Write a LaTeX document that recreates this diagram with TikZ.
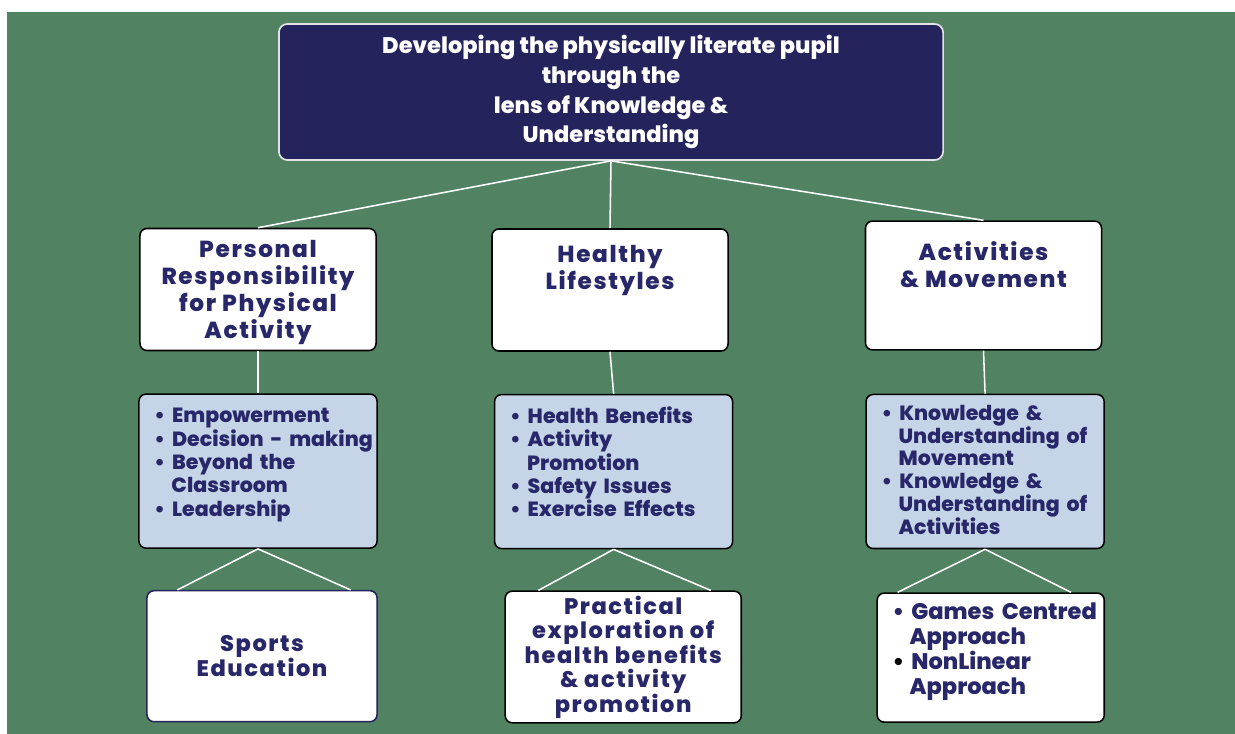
\documentclass[tikz,border=0pt]{standalone}
\usepackage{fontspec}
\setmainfont{Poppins}[BoldFont={* ExtraBold}]
\newfontfamily\wideface{Poppins}[BoldFont={* ExtraBold}, LetterSpace=7]
\usetikzlibrary{positioning}

\definecolor{bggreen}{HTML}{518262}
\definecolor{deepnavy}{HTML}{25235C}
\definecolor{inknavy}{HTML}{272769}
\definecolor{paleblue}{HTML}{C5D4E6}
\definecolor{rimgray}{HTML}{E2E2E8}

% tight bullet list for the boxes
\newenvironment{dotlist}{%
  \begin{list}{\textbullet}{%
    \setlength{\leftmargin}{0.725cm}\setlength{\labelwidth}{0.25cm}%
    \setlength{\labelsep}{0.175cm}\setlength{\itemindent}{0pt}%
    \setlength{\itemsep}{0pt}\setlength{\parsep}{0pt}%
    \setlength{\topsep}{0pt}\setlength{\partopsep}{0pt}}}%
  {\end{list}}

\begin{document}
\begin{tikzpicture}[x=0.025cm, y=-0.025cm,
  topbox/.style={draw=rimgray, line width=1.2pt, fill=deepnavy,
    rounded corners=6pt, text=white, align=center,
    minimum width=16.6cm, minimum height=3.4cm,
    font=\bfseries\fontsize{16}{21.3}\selectfont},
  headbox/.style={draw=black, line width=1.1pt, fill=white,
    rounded corners=5pt, minimum width=5.9cm, minimum height=3.05cm},
  headtext/.style={inner sep=0pt, align=center, text=inknavy,
    font=\wideface\bfseries\fontsize{16.5}{19.2}\selectfont},
  listbox/.style={draw=black, line width=1.1pt, fill=paleblue,
    rounded corners=5pt, minimum width=5.95cm, minimum height=3.85cm},
  listtext/.style={anchor=north west, inner sep=0pt, text width=6.5cm,
    align=left, text=inknavy, font=\bfseries\fontsize{14.6}{16.6}\selectfont},
  leafbox/.style={draw=black, line width=1.1pt, fill=white,
    rounded corners=5pt, minimum width=5.8cm, minimum height=3.275cm,
    align=center, text=inknavy,
    font=\wideface\bfseries\fontsize{16}{17.4}\selectfont},
  link/.style={draw=white, line width=1.1pt}
]
  \useasboundingbox[fill=white] (0,0) rectangle (1235,734);
  \fill[bggreen] (7,12) rectangle (1235,734);

  % title
  \node[topbox] (top) at (611,92)
    {Developing the physically literate pupil\\through the\\lens of Knowledge \&\\Understanding};

  % the three strands
  \node[headbox] (pers) at (258,289.5) {};
  \node[headbox] (life) at (610,290) {};
  \node[headbox, minimum height=3.22cm] (move) at (983.5,285.5) {};
  \node[headtext, below=0.3cm of pers.north] (pers-t)
    {Personal\\Responsibility\\for Physical\\Activity};
  \node[headtext, below=0.42cm of life.north] (life-t) {Healthy\\Lifestyles};
  \node[headtext, below=0.52cm of move.north] (move-t) {Activities\\\& Movement};

  % key points
  \node[listbox, below=1.05cm of pers] (persl) {};
  \node[listbox, below=1.05cm of life, xshift=0.09cm] (lifel) {};
  \node[listbox, below=1.075cm of move, xshift=0.04cm] (movel) {};
  \node[listtext] (persl-t) at ([shift={(0.1cm,-0.15cm)}]persl.north west)
    {\begin{dotlist}
      \item Empowerment
      \item Decision - making
      \item Beyond the\newline Classroom
      \item Leadership
    \end{dotlist}};
  \node[listtext] (lifel-t) at ([shift={(0.1cm,-0.15cm)}]lifel.north west)
    {\begin{dotlist}
      \item Health Benefits
      \item Activity\newline Promotion
      \item Safety Issues
      \item Exercise Effects
    \end{dotlist}};
  \node[listtext, font=\bfseries\fontsize{14.6}{16.3}\selectfont] (movel-t)
    at ([shift={(0.1cm,-0.08cm)}]movel.north west)
    {\begin{dotlist}
      \item Knowledge \&\newline Understanding of\newline Movement
      \item Knowledge \&\newline Understanding of\newline Activities
    \end{dotlist}};

  % practice
  \node[leafbox, draw=deepnavy, below=1.025cm of persl, xshift=0.1cm,
    minimum width=5.75cm] (sport) {Sports\\Education};
  \node[leafbox, below=1.025cm of lifel, xshift=0.24cm, minimum width=5.9cm]
    (pract) {Practical\\exploration of\\health benefits\\\& activity\\promotion};
  \node[leafbox, below=1.075cm of movel, xshift=0.14cm, minimum width=5.675cm,
    minimum height=3.225cm] (games) {};
  \node[listtext, font=\bfseries\fontsize{16}{17.8}\selectfont]
    (games-t) at ([shift={(0.1cm,-0.05cm)}]games.north west)
    {\begin{dotlist}
      \item Games Centred\newline Approach
      \item[\textcolor{black}{\textbullet}] NonLinear\newline Approach
    \end{dotlist}};

  % connectors
  \draw[link] (top.south) -- (pers.north);
  \draw[link] (top.south) -- (life.north);
  \draw[link] (top.south) -- (move.north);
  \draw[link] (pers.south) -- (persl.north);
  \draw[link] (life.south) -- (lifel.north);
  \draw[link] (move.south) -- (movel.north);
  \draw[link] (persl.south) -- ([xshift=0.78cm]sport.north west);
  \draw[link] (persl.south) -- ([xshift=-0.68cm]sport.north east);
  \draw[link] (lifel.south) -- ([xshift=0.85cm]pract.north west);
  \draw[link] (lifel.south) -- ([xshift=-0.78cm]pract.north east);
  \draw[link] (movel.south) -- ([xshift=0.53cm]games.north west);
  \draw[link] (movel.south) -- ([xshift=-0.85cm]games.north east);
\end{tikzpicture}
\end{document}
